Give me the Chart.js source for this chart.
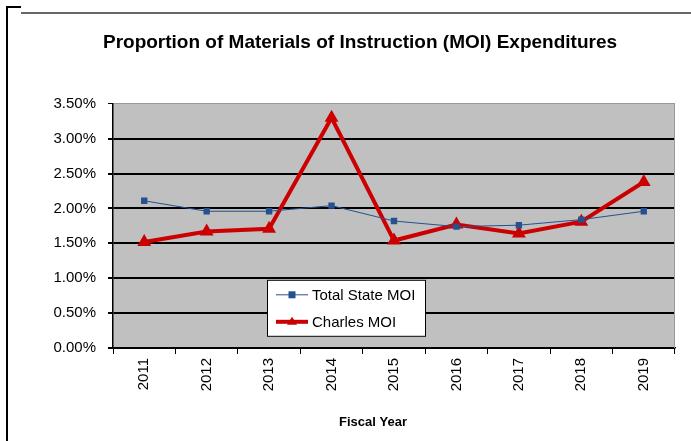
<!DOCTYPE html>
<html>
<head>
<meta charset="utf-8">
<script src="https://cdn.jsdelivr.net/npm/chart.js@4.4.1/dist/chart.umd.min.js"></script>
<style>
  html, body { margin: 0; padding: 0; background: #fff; }
  #wrap { position: relative; width: 691px; height: 441px; overflow: hidden; }
  #chart { position: absolute; left: 0; top: 0; }
  .edge { position: absolute; }
</style>
</head>
<body>
<div id="wrap">
  <canvas id="chart" width="691" height="441"></canvas>
  <div class="edge" style="left:6px;top:6px;width:2px;height:435px;background:#000"></div>
  <div class="edge" style="left:6px;top:6px;width:15px;height:2px;background:#000"></div>
  <div class="edge" style="left:21px;top:12px;width:670px;height:2px;background:#666"></div>
</div>
<script>
const years = ['2011', '2012', '2013', '2014', '2015', '2016', '2017', '2018', '2019'];
const totalState = [2.11, 1.96, 1.96, 2.04, 1.82, 1.74, 1.76, 1.84, 1.96];
const charles = [1.52, 1.67, 1.71, 3.30, 1.54, 1.77, 1.64, 1.81, 2.38];
const yTicks = [0, 0.5, 1.0, 1.5, 2.0, 2.5, 3.0, 3.5];

const FONT = "'Liberation Sans', Arial, sans-serif";
const BLUE = '#25528f';
const RED = '#cc0000';

// gray plot background + light border on the right
const plotBox = {
    id: 'plotBox',
    beforeDraw(chart) {
        const a = chart.chartArea, ctx = chart.ctx;
        ctx.save();
        ctx.fillStyle = '#c0c0c0';
        ctx.fillRect(a.left, a.top, a.right - a.left, a.bottom - a.top);
        ctx.restore();
    },
    beforeDatasetsDraw(chart) {
        const a = chart.chartArea, ctx = chart.ctx;
        ctx.save();
        ctx.strokeStyle = '#999';
        ctx.lineWidth = 1;
        ctx.beginPath();
        ctx.moveTo(a.right - 0.5, a.top);
        ctx.lineTo(a.right - 0.5, a.bottom);
        ctx.stroke();
        ctx.restore();
    }
};

// legend box inside the plot + x axis title
const extras = {
    id: 'extras',
    afterDraw(chart) {
        const a = chart.chartArea, ctx = chart.ctx;
        const lx = a.left + 154, ly = a.top + 176;
        ctx.save();
        ctx.fillStyle = '#fff';
        ctx.fillRect(lx, ly, 159, 57);
        ctx.strokeStyle = '#000';
        ctx.lineWidth = 1;
        ctx.strokeRect(lx + 0.5, ly + 0.5, 158, 56);

        chart.data.datasets.forEach((ds, i) => {
            const y = ly + 15 + i * 27;
            ctx.strokeStyle = ds.borderColor;
            ctx.lineWidth = ds.borderWidth;
            ctx.beginPath();
            ctx.moveTo(lx + 9, y);
            ctx.lineTo(lx + 41, y);
            ctx.stroke();
            ctx.fillStyle = ds.backgroundColor;
            const cx = lx + 25;
            if (ds.pointStyle === 'rect') {
                ctx.fillRect(cx - 3.5, y - 3.5, 7, 7);
            } else {
                ctx.beginPath();
                ctx.moveTo(cx, y - 5);
                ctx.lineTo(cx + 5, y + 3);
                ctx.lineTo(cx - 5, y + 3);
                ctx.closePath();
                ctx.fill();
            }
            ctx.fillStyle = '#000';
            ctx.font = '15px ' + FONT;
            ctx.textBaseline = 'middle';
            ctx.textAlign = 'left';
            ctx.fillText(ds.label, lx + 45, y + 1);
        });

        ctx.font = 'bold 13px ' + FONT;
        ctx.textAlign = 'center';
        ctx.textBaseline = 'middle';
        ctx.fillStyle = '#000';
        ctx.fillText('Fiscal Year', 373, 422);
        ctx.restore();
    }
};

new Chart(document.getElementById('chart'), {
    type: 'line',
    data: {
        labels: years,
        datasets: [
            {
                label: 'Total State MOI',
                data: totalState,
                borderColor: BLUE,
                backgroundColor: BLUE,
                borderWidth: 1,
                pointStyle: 'rect',
                pointRadius: 4.5,
                pointBorderWidth: 0,
                tension: 0
            },
            {
                label: 'Charles MOI',
                data: charles,
                borderColor: RED,
                backgroundColor: RED,
                borderWidth: 4,
                pointStyle: 'triangle',
                pointRadius: 8,
                pointBorderWidth: 0,
                tension: 0
            }
        ]
    },
    options: {
        responsive: false,
        animation: false,
        layout: { padding: { left: 45, right: 16, top: 0, bottom: 0 } },
        plugins: {
            legend: { display: false },
            tooltip: { enabled: false },
            title: {
                display: true,
                text: 'Proportion of Materials of Instruction (MOI) Expenditures',
                color: '#000',
                font: { family: FONT, size: 19, weight: 'bold' },
                padding: { top: 31, bottom: 50 }
            }
        },
        scales: {
            x: {
                offset: true,
                grid: {
                    offset: true,
                    drawOnChartArea: false,
                    color: '#000',
                    tickLength: 6
                },
                border: { color: '#000', width: 1.5 },
                ticks: {
                    color: '#000',
                    font: { family: FONT, size: 15 },
                    minRotation: 90,
                    maxRotation: 90,
                    padding: 4
                },
                afterFit(scale) { scale.height = 93; }
            },
            y: {
                min: 0,
                max: 3.5,
                afterBuildTicks(scale) { scale.ticks = yTicks.map(v => ({ value: v })); },
                grid: {
                    color: ctx => (ctx.tick && ctx.tick.value === 3.5) ? '#999' : '#000',
                    lineWidth: ctx => (ctx.tick && ctx.tick.value === 3.5) ? 1 : 2,
                    tickColor: '#000',
                    tickLength: 5
                },
                border: { color: '#000', width: 1.5 },
                ticks: {
                    color: '#000',
                    font: { family: FONT, size: 15 },
                    padding: 12,
                    callback: v => v.toFixed(2) + '%'
                },
                afterFit(scale) { scale.width = 68; }
            }
        }
    },
    plugins: [plotBox, extras]
});
</script>
</body>
</html>
